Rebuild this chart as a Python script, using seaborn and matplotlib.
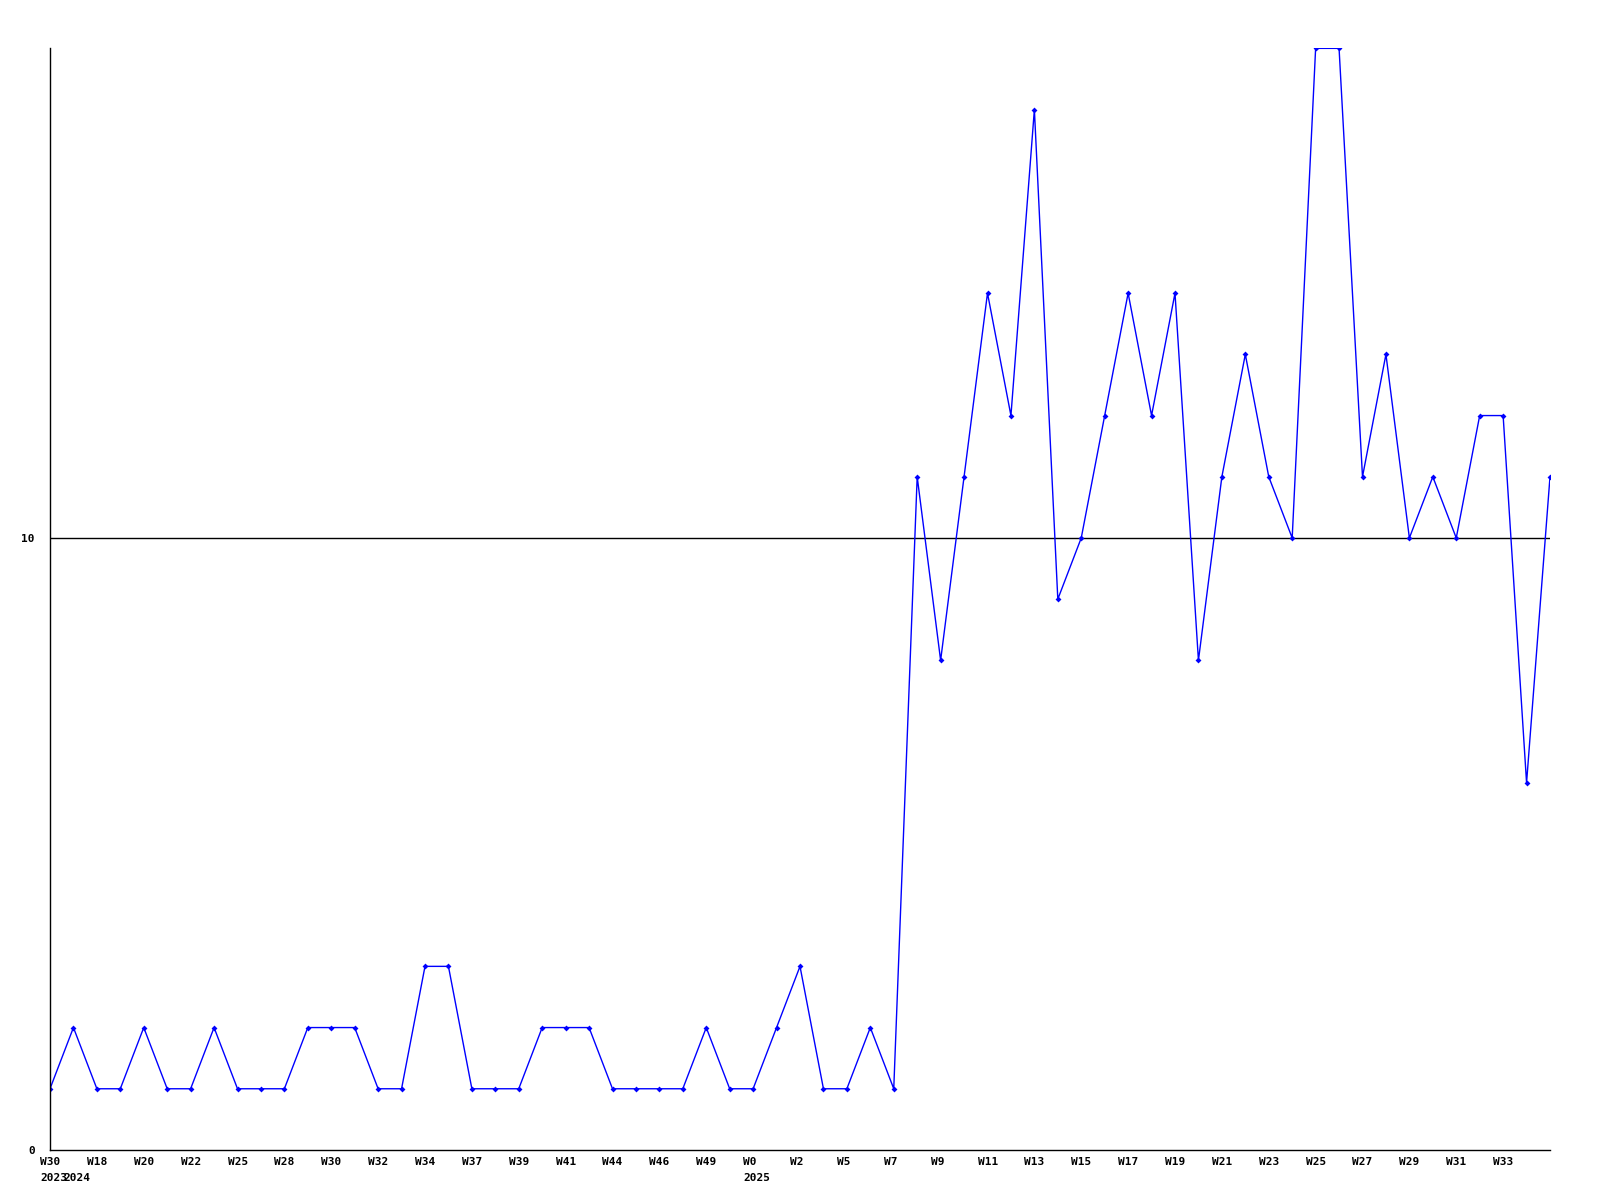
import numpy as np
import pandas as pd
import matplotlib
matplotlib.use("Agg")
import matplotlib.pyplot as plt
from matplotlib.transforms import offset_copy
import seaborn as sns

# ── data ─────────────────────────────────────────────────────────────────────
counts = [1, 2, 1, 1, 2, 1, 1, 2, 1, 1, 1, 2, 2, 2, 1, 1, 3, 3, 1, 1,
          1, 2, 2, 2, 1, 1, 1, 1, 2, 1, 1, 2, 3, 1, 1, 2, 1, 11, 8, 11,
          14, 12, 17, 9, 10, 12, 14, 12, 14, 8, 11, 13, 11, 10, 18, 18, 11, 13, 10, 11,
          10, 12, 12, 6, 11]
week_labels = ["W30", "W18", "W20", "W22", "W25", "W28", "W30", "W32", "W34", "W37",
               "W39", "W41", "W44", "W46", "W49", "W0", "W2", "W5", "W7", "W9",
               "W11", "W13", "W15", "W17", "W19", "W21", "W23", "W25", "W27", "W29",
               "W31", "W33"]
year_pos = [0, 1, 30]
year_labels = ["2023", "2024", "2025"]
y_ticks = [0, 10]

df = pd.DataFrame({"idx": np.arange(len(counts)), "count": counts})

# ── style ────────────────────────────────────────────────────────────────────
sns.set_style("white")
plt.rcParams["font.family"] = ["DejaVu Sans Mono"]
LINE = "#0000ff"
FONT = dict(fontsize=8, fontweight="bold", color="black")

fig = plt.figure(figsize=(16, 12), dpi=100)
ax = fig.add_axes([0.03125, 0.0417, 0.9375, 0.918])

sns.lineplot(data=df, x="idx", y="count", ax=ax, color=LINE, lw=1,
             marker="D", markersize=3, markeredgewidth=0, markerfacecolor=LINE)

ax.set_xlim(0, len(counts) - 1)
ax.set_ylim(0, 18)
ax.axhline(10, color="black", lw=1, zorder=0)

ax.set_yticks(y_ticks)
ax.set_yticklabels([str(v) for v in y_ticks], **FONT)
ax.tick_params(axis="y", length=0, pad=11)

# week labels along the bottom, year markers underneath
ax.set_xticks([])
trans = offset_copy(ax.get_xaxis_transform(), fig=fig, x=-10, y=-7, units="dots")
for i, lab in enumerate(week_labels):
    ax.text(2 * i, 0, lab, transform=trans, ha="left", va="top", **FONT)
trans2 = offset_copy(ax.get_xaxis_transform(), fig=fig, x=-10, y=-23, units="dots")
for p, lab in zip(year_pos, year_labels):
    ax.text(p, 0, lab, transform=trans2, ha="left", va="top", **FONT)

ax.set_xlabel("")
ax.set_ylabel("")
for s in ["top", "right"]:
    ax.spines[s].set_visible(False)
for s in ["left", "bottom"]:
    ax.spines[s].set_color("black")
    ax.spines[s].set_linewidth(1)

fig.savefig("out.png", dpi=100, facecolor="white")
